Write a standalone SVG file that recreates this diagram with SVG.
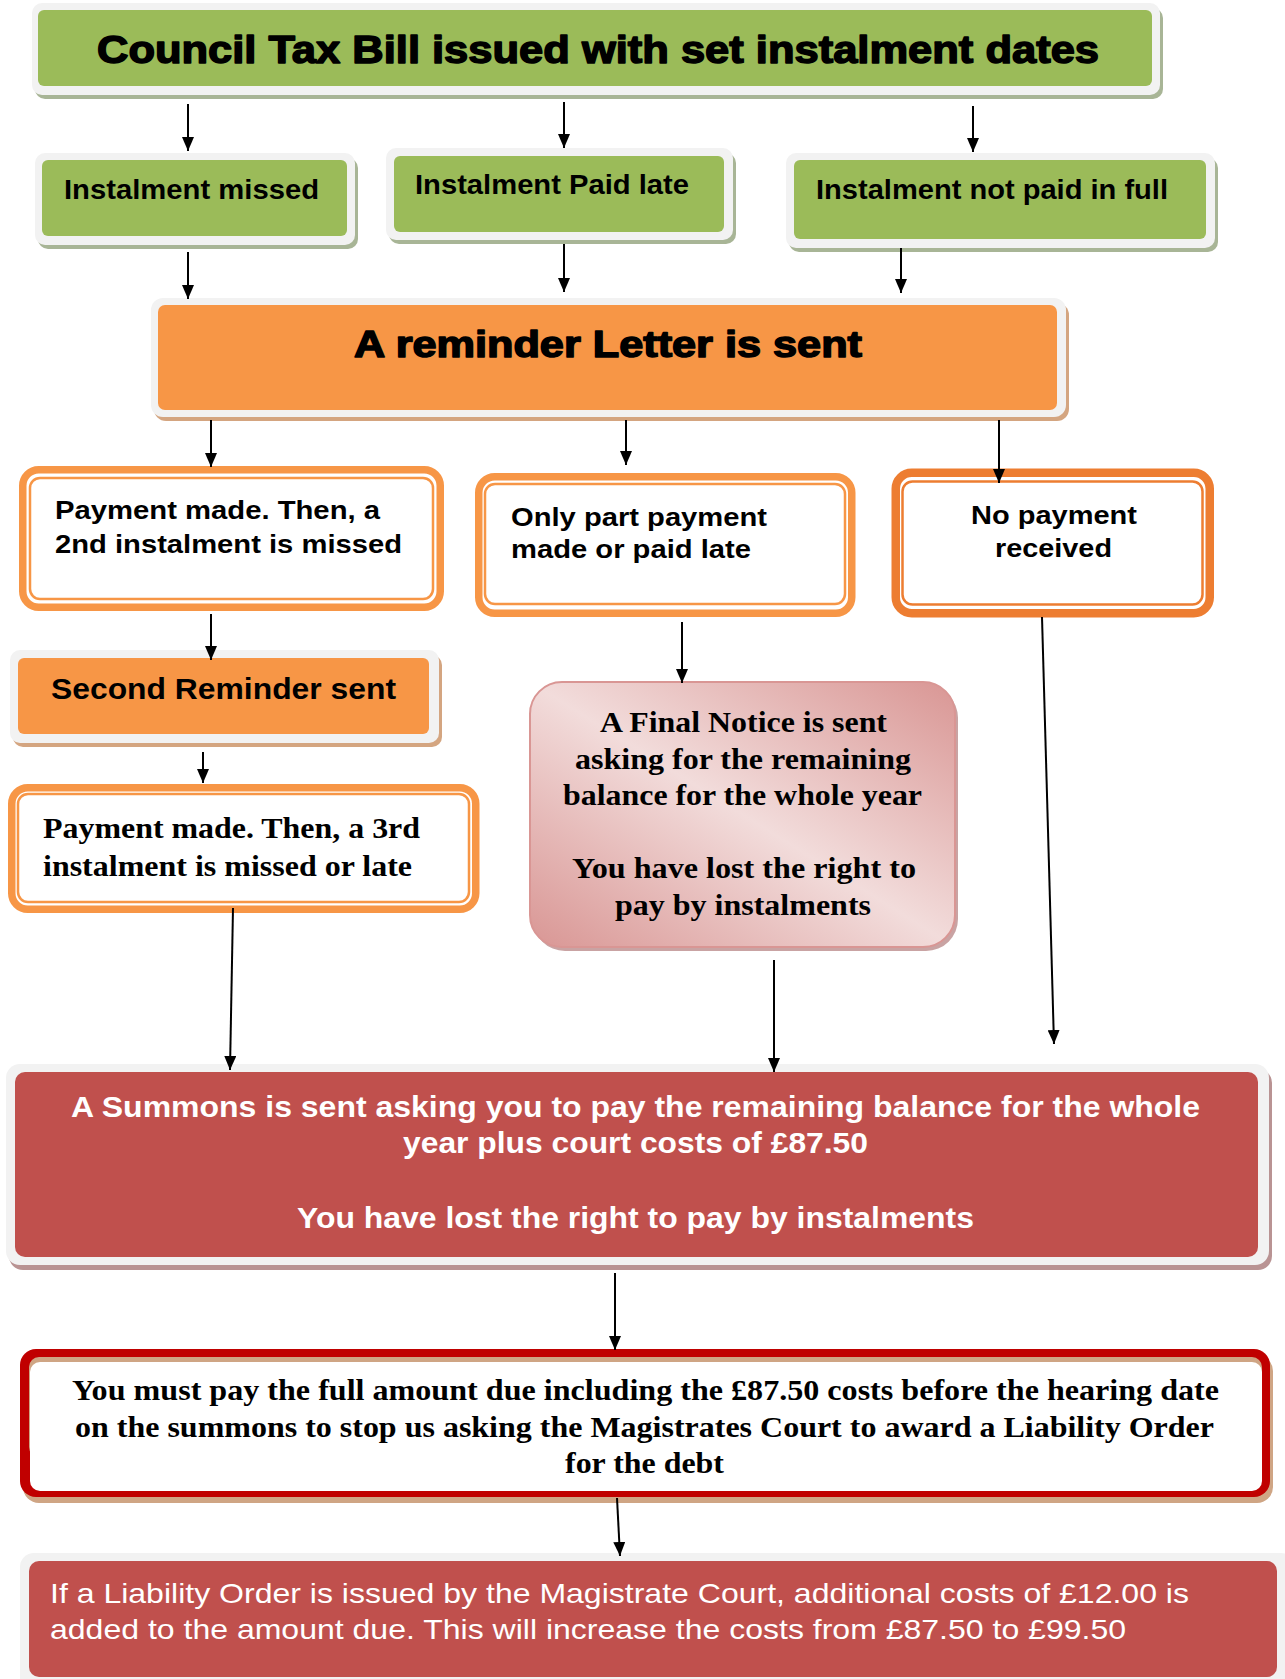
<svg xmlns="http://www.w3.org/2000/svg" width="1285" height="1679" viewBox="0 0 1285 1679">
<defs>
<marker id="ah" markerUnits="userSpaceOnUse" markerWidth="14" markerHeight="12" refX="14" refY="6" orient="auto">
<path d="M0,0 L14,6 L0,12 z" fill="#000"/>
</marker>
<linearGradient id="pink" x1="0" y1="1" x2="1" y2="0">
<stop offset="0" stop-color="#D99694"/>
<stop offset="0.5" stop-color="#F2DCDB"/>
<stop offset="1" stop-color="#D99694"/>
</linearGradient>
</defs>
<style>
.sa{font-family:"Liberation Sans",Arial,sans-serif;font-weight:bold;fill:#000}
.ss{font-family:"Liberation Serif","Times New Roman",serif;font-weight:bold;fill:#000}
.heavy{stroke:#000;stroke-width:1.5;stroke-linejoin:round}
.w{fill:#fff}
.reg{font-weight:normal}
.lt{fill:#F2F2F2}
.gsh{fill:#A8B596}
.osh{fill:#D4A580}
.green{fill:#9BBB59}
.orange{fill:#F79646}
.red{fill:#C0504D}
.dbl{fill:#fff;stroke:#F79646;stroke-width:7.5}
.thin{fill:none;stroke:#F79646;stroke-width:2.5}
.dk{stroke:#ED7D31}
.con{stroke:#000;stroke-width:2;fill:none;marker-end:url(#ah)}
</style>
<rect width="1285" height="1679" fill="#fff"/>

<g id="n-bill">
<rect class="gsh" x="35" y="8" width="1128" height="91" rx="10"/>
<rect class="lt" x="32" y="3" width="1128" height="92" rx="10"/>
<rect class="green" x="38" y="10" width="1114" height="76" rx="6"/>
<text class="sa heavy" x="97" y="63" font-size="39" textLength="1002" lengthAdjust="spacingAndGlyphs">Council Tax Bill issued with set instalment dates</text>
</g>

<g id="n-missed">
<rect class="gsh" x="38" y="158" width="320" height="91" rx="10"/>
<rect class="lt" x="35" y="153" width="320" height="92" rx="10"/>
<rect class="green" x="42" y="160" width="305" height="76" rx="6"/>
<text class="sa" x="64" y="199" font-size="28" textLength="255" lengthAdjust="spacingAndGlyphs">Instalment missed</text>
</g>

<g id="n-late">
<rect class="gsh" x="389" y="153" width="347" height="91" rx="10"/>
<rect class="lt" x="386" y="148" width="347" height="92" rx="10"/>
<rect class="green" x="394" y="156" width="330" height="76" rx="6"/>
<text class="sa" x="415" y="194" font-size="28" textLength="274" lengthAdjust="spacingAndGlyphs">Instalment Paid late</text>
</g>

<g id="n-notfull">
<rect class="gsh" x="789" y="158" width="429" height="94" rx="10"/>
<rect class="lt" x="786" y="153" width="429" height="95" rx="10"/>
<rect class="green" x="794" y="160" width="412" height="79" rx="6"/>
<text class="sa" x="816" y="199" font-size="28" textLength="352" lengthAdjust="spacingAndGlyphs">Instalment not paid in full</text>
</g>

<g id="n-reminder">
<rect class="osh" x="154" y="303" width="915" height="118" rx="12"/>
<rect class="lt" x="151" y="298" width="915" height="119" rx="12"/>
<rect class="orange" x="158" y="305" width="899" height="105" rx="7"/>
<text class="sa heavy" x="354" y="357" font-size="36" textLength="508" lengthAdjust="spacingAndGlyphs">A reminder Letter is sent</text>
</g>

<g id="n-2nd">
<rect class="dbl" x="22.75" y="469.75" width="417.5" height="137.5" rx="16"/>
<rect class="thin" x="30" y="478" width="403" height="121" rx="10"/>
<text class="sa" x="55" y="519" font-size="26" textLength="325" lengthAdjust="spacingAndGlyphs">Payment made. Then, a</text>
<text class="sa" x="55" y="553" font-size="26" textLength="347" lengthAdjust="spacingAndGlyphs">2nd instalment is missed</text>
</g>

<g id="n-part">
<rect class="dbl" x="478.75" y="476.75" width="373" height="136.5" rx="16"/>
<rect class="thin" x="485" y="484" width="360" height="120" rx="10"/>
<text class="sa" x="511" y="526" font-size="26" textLength="256" lengthAdjust="spacingAndGlyphs">Only part payment</text>
<text class="sa" x="511" y="558" font-size="26" textLength="240" lengthAdjust="spacingAndGlyphs">made or paid late</text>
</g>

<g id="n-nopay">
<rect class="dbl dk" x="895.75" y="472.75" width="314" height="140.5" rx="16" style="stroke-width:8.5"/>
<rect class="thin dk" x="902.5" y="481.5" width="300" height="123" rx="10"/>
<text class="sa" x="971" y="524" font-size="26" textLength="166" lengthAdjust="spacingAndGlyphs">No payment</text>
<text class="sa" x="995" y="557" font-size="26" textLength="117" lengthAdjust="spacingAndGlyphs">received</text>
</g>

<g id="n-second">
<rect class="osh" x="13" y="655" width="429" height="92" rx="10"/>
<rect class="lt" x="10" y="650" width="429" height="93" rx="10"/>
<rect class="orange" x="18" y="658" width="411" height="76" rx="6"/>
<text class="sa" x="51" y="699" font-size="29" textLength="345" lengthAdjust="spacingAndGlyphs">Second Reminder sent</text>
</g>

<g id="n-3rd">
<rect class="dbl" x="11.75" y="787.75" width="464" height="121.5" rx="16"/>
<rect class="thin" x="18" y="794" width="451" height="108" rx="10"/>
<text class="ss" x="43" y="838" font-size="29" textLength="377" lengthAdjust="spacingAndGlyphs">Payment made. Then, a 3rd</text>
<text class="ss" x="43" y="876" font-size="29" textLength="369" lengthAdjust="spacingAndGlyphs">instalment is missed or late</text>
</g>

<g id="n-final">
<rect x="533" y="686" width="425" height="265" rx="32" fill="#C9A3A3"/>
<rect x="530" y="682" width="425" height="265" rx="32" fill="url(#pink)" stroke="#D99694" stroke-width="2"/>
<text class="ss" x="600" y="732" font-size="29" textLength="287" lengthAdjust="spacingAndGlyphs">A Final Notice is sent</text>
<text class="ss" x="575" y="769" font-size="29" textLength="336" lengthAdjust="spacingAndGlyphs">asking for the remaining</text>
<text class="ss" x="563" y="805" font-size="29" textLength="359" lengthAdjust="spacingAndGlyphs">balance for the whole year</text>
<text class="ss" x="572" y="878" font-size="29" textLength="344" lengthAdjust="spacingAndGlyphs">You have lost the right to</text>
<text class="ss" x="615" y="915" font-size="29" textLength="256" lengthAdjust="spacingAndGlyphs">pay by instalments</text>
</g>

<g id="n-summons">
<rect x="9" y="1069" width="1263" height="201" rx="14" fill="#B99393"/>
<rect class="lt" x="6" y="1064" width="1263" height="201" rx="14"/>
<rect class="red" x="15" y="1072" width="1243" height="185" rx="10"/>
<text class="sa w" x="71" y="1117" font-size="29" textLength="1129" lengthAdjust="spacingAndGlyphs">A Summons is sent asking you to pay the remaining balance for the whole</text>
<text class="sa w" x="403" y="1153" font-size="29" textLength="465" lengthAdjust="spacingAndGlyphs">year plus court costs of £87.50</text>
<text class="sa w" x="297" y="1228" font-size="29" textLength="677" lengthAdjust="spacingAndGlyphs">You have lost the right to pay by instalments</text>
</g>

<g id="n-mustpay">
<rect x="23" y="1355" width="1250" height="148" rx="16" fill="#CFA584"/>
<rect x="20" y="1349" width="1250" height="148" rx="16" fill="#C00000"/>
<rect x="29" y="1357" width="1233" height="100" rx="10" fill="#CFA584"/>
<rect x="30" y="1362" width="1232" height="129" rx="10" fill="#fff"/>
<text class="ss" x="72" y="1400" font-size="29" textLength="1147" lengthAdjust="spacingAndGlyphs">You must pay the full amount due including the £87.50 costs before the hearing date</text>
<text class="ss" x="75" y="1437" font-size="29" textLength="1139" lengthAdjust="spacingAndGlyphs">on the summons to stop us asking the Magistrates Court to award a Liability Order</text>
<text class="ss" x="565" y="1473" font-size="29" textLength="159" lengthAdjust="spacingAndGlyphs">for the debt</text>
</g>

<g id="n-liability">
<rect class="lt" x="20" y="1553" width="1275" height="140" rx="14"/>
<rect class="red" x="29" y="1561" width="1248" height="116" rx="10"/>
<text class="sa w reg" x="50" y="1603" font-size="28" textLength="1139" lengthAdjust="spacingAndGlyphs">If a Liability Order is issued by the Magistrate Court, additional costs of £12.00 is</text>
<text class="sa w reg" x="50" y="1639" font-size="28" textLength="1076" lengthAdjust="spacingAndGlyphs">added to the amount due. This will increase the costs from £87.50 to £99.50</text>
</g>

<g id="connectors">
<line class="con" x1="188" y1="104" x2="188" y2="151"/>
<line class="con" x1="564" y1="102" x2="564" y2="148"/>
<line class="con" x1="973" y1="106" x2="973" y2="152"/>
<line class="con" x1="188" y1="252" x2="188" y2="299"/>
<line class="con" x1="564" y1="244" x2="564" y2="292"/>
<line class="con" x1="901" y1="248" x2="901" y2="293"/>
<line class="con" x1="211" y1="420" x2="211" y2="467"/>
<line class="con" x1="626" y1="420" x2="626" y2="465"/>
<line class="con" x1="999" y1="420" x2="999" y2="483"/>
<line class="con" x1="211" y1="614" x2="211" y2="660"/>
<line class="con" x1="203" y1="752" x2="203" y2="783"/>
<line class="con" x1="682" y1="622" x2="682" y2="683"/>
<line class="con" x1="1042" y1="617" x2="1054" y2="1044"/>
<line class="con" x1="233" y1="908" x2="230" y2="1070"/>
<line class="con" x1="774" y1="960" x2="774" y2="1072"/>
<line class="con" x1="615" y1="1273" x2="615" y2="1350"/>
<line class="con" x1="617" y1="1498" x2="620" y2="1556"/>
</g>
</svg>
